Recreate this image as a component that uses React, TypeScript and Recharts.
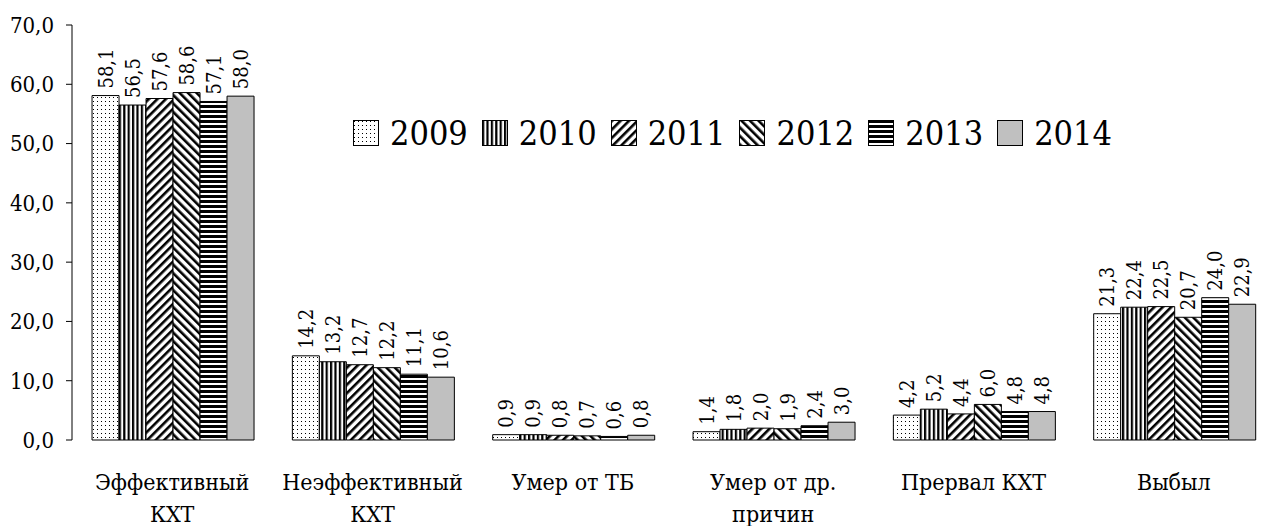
import React from 'react';
import { BarChart, Bar, XAxis, YAxis, Legend, LabelList } from 'recharts';

const categories = ['Эффективный\nКХТ', 'Неэффективный\nКХТ', 'Умер от ТБ', 'Умер от др.\nпричин', 'Прервал КХТ', 'Выбыл'];
const years = ['2009', '2010', '2011', '2012', '2013', '2014'];
const v2009 = [58.1, 14.2, 0.9, 1.4, 4.2, 21.3];
const v2010 = [56.5, 13.2, 0.9, 1.8, 5.2, 22.4];
const v2011 = [57.6, 12.7, 0.8, 2.0, 4.4, 22.5];
const v2012 = [58.6, 12.2, 0.7, 1.9, 6.0, 20.7];
const v2013 = [57.1, 11.1, 0.6, 2.4, 4.8, 24.0];
const v2014 = [58.0, 10.6, 0.8, 3.0, 4.8, 22.9];
const yTicks = [0, 10, 20, 30, 40, 50, 60, 70];
const boundaryTicks = [1, 2, 3, 4, 5];

const series = [v2009, v2010, v2011, v2012, v2013, v2014];
const fills = ['url(#pDots)', 'url(#pVert)', 'url(#pFwd)', 'url(#pBack)', 'url(#pHoriz)', '#c0c0c0'];

const data = categories.map((name, i) => {
  const row: Record<string, string | number> = { name };
  years.forEach((y, k) => { row[y] = series[k][i]; });
  return row;
});

// only serif face available in the sandbox; condensed is closer to Times widths
const serif = { fontFamily: "'DejaVu Serif'", fontStretch: 'condensed' } as const;
const fmt = (v: number) => v.toFixed(1).replace('.', ',');

const ValueLabel = (props: any) => {
  const { x, y, width, value } = props;
  const cx = x + width / 2;
  const ty = y - 7;
  return (
    <text x={cx} y={ty} transform={`rotate(-90, ${cx}, ${ty})`} textAnchor="start"
      dominantBaseline="central" style={serif} fontSize={20} fill="#000">
      {fmt(value)}
    </text>
  );
};

const CategoryTick = (props: any) => {
  const { x, y, payload } = props;
  const lines = String(payload.value).split('\n');
  return (
    <text x={x} textAnchor="middle" style={serif} fontSize={23} fill="#000">
      {lines.map((l, i) => (
        <tspan key={i} x={x} y={y + 50 + i * 32}>{l}</tspan>
      ))}
    </text>
  );
};

const LegendBox = () => (
  <div style={{ ...serif, display: 'flex', alignItems: 'center', fontSize: 34, color: '#000', whiteSpace: 'nowrap' }}>
    {years.map((y, k) => (
      <div key={y} style={{ display: 'flex', alignItems: 'center', marginRight: 14 }}>
        <svg width={26} height={26} style={{ marginRight: 11 }}>
          <rect x={0.5} y={0.5} width={25} height={25} fill={fills[k]} stroke="#000" strokeWidth={1} />
        </svg>
        <span style={{ lineHeight: 1 }}>{y}</span>
      </div>
    ))}
  </div>
);

export default function App() {
  return (
    <div style={{ position: 'absolute', left: 0, top: 0, width: 1268, height: 526, overflow: 'hidden', background: '#fff' }}>
      <BarChart width={1280} height={526} data={data} barGap={0} barCategoryGap="10%"
        margin={{ top: 25, right: 6, bottom: 0, left: 0 }}>
        <defs>
          <pattern id="pDots" width={4} height={4} patternUnits="userSpaceOnUse">
            <rect width={4} height={4} fill="#fff" />
            <rect x={1} y={1} width={1} height={1} fill="#000" />
          </pattern>
          <pattern id="pVert" width={4.4} height={10} patternUnits="userSpaceOnUse">
            <rect width={4.4} height={10} fill="#fff" />
            <rect x={0} y={0} width={2.2} height={10} fill="#000" />
          </pattern>
          <pattern id="pFwd" width={6} height={10} patternUnits="userSpaceOnUse" patternTransform="rotate(45)">
            <rect width={6} height={10} fill="#fff" />
            <rect x={0} y={0} width={2.6} height={10} fill="#000" />
          </pattern>
          <pattern id="pBack" width={6} height={10} patternUnits="userSpaceOnUse" patternTransform="rotate(-45)">
            <rect width={6} height={10} fill="#fff" />
            <rect x={0} y={0} width={2.6} height={10} fill="#000" />
          </pattern>
          <pattern id="pHoriz" width={10} height={5} patternUnits="userSpaceOnUse">
            <rect width={10} height={5} fill="#fff" />
            <rect x={0} y={0} width={10} height={3} fill="#000" />
          </pattern>
        </defs>
        <XAxis xAxisId="grid" type="number" domain={[0, 6]} ticks={boundaryTicks} tick={false}
          height={0} tickSize={9} stroke="#000" axisLine={{ stroke: '#000' }} tickLine={{ stroke: '#000' }} />
        <XAxis xAxisId="cat" dataKey="name" height={86} axisLine={false} tickLine={false}
          tickSize={0} tickMargin={0} interval={0} tick={<CategoryTick />} />
        <YAxis width={72} domain={[0, 70]} ticks={yTicks} tickFormatter={fmt} tickSize={6} tickMargin={12}
          axisLine={{ stroke: '#000' }} tickLine={{ stroke: '#000' }}
          tick={{ style: serif, fontSize: 22, fill: '#000' }} />
        <Legend layout="horizontal" verticalAlign="middle" align="center" content={<LegendBox />}
          wrapperStyle={{ top: 116, left: 353, width: 'auto' }} />
        {years.map((y, k) => (
          <Bar key={y} xAxisId="cat" dataKey={y} fill={fills[k]} stroke="#000" strokeWidth={1}
            isAnimationActive={false}>
            <LabelList dataKey={y} content={<ValueLabel />} />
          </Bar>
        ))}
      </BarChart>
    </div>
  );
}
